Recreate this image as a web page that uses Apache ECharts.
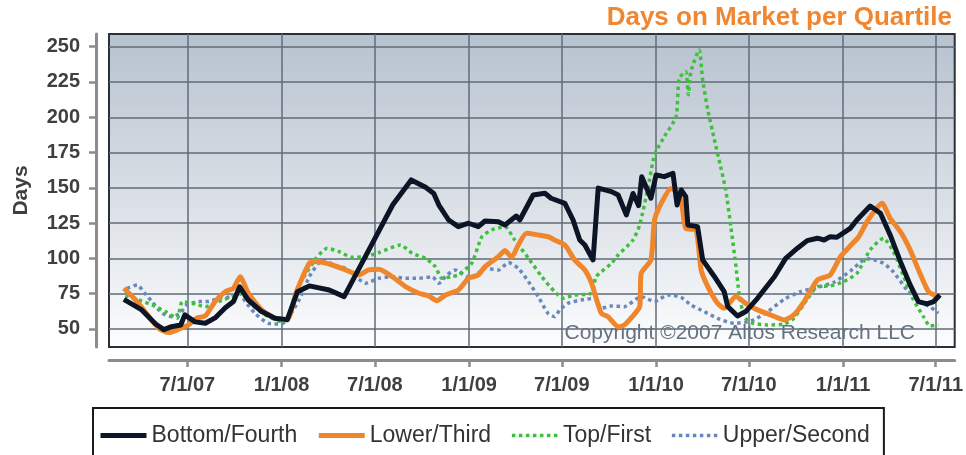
<!DOCTYPE html>
<html>
<head>
<meta charset="utf-8">
<title>Days on Market per Quartile</title>
<script src="https://cdn.jsdelivr.net/npm/echarts@6/dist/echarts.min.js"></script>
<style>
  html, body { margin: 0; padding: 0; background: #fff; }
  #chart { width: 966px; height: 455px; }
</style>
</head>
<body>
<div id="chart"></div>
<script>
// tick labels
var xTicks = ['2007-07-01', '2008-01-01', '2008-07-01', '2009-01-01', '2009-07-01',
              '2010-01-01', '2010-07-01', '2011-01-01', '2011-07-01'];
var yTicks = [50, 75, 100, 125, 150, 175, 200, 225, 250];

// Bottom/Fourth
var bottomDates = ['2007-02-27','2007-04-03','2007-04-30','2007-05-16','2007-05-31','2007-06-18','2007-06-26',
  '2007-07-16','2007-08-05','2007-08-24','2007-09-13','2007-09-29','2007-10-11','2007-10-28','2007-11-23',
  '2007-12-19','2008-01-12','2008-02-01','2008-02-24','2008-04-03','2008-05-02','2008-07-01','2008-08-05',
  '2008-09-10','2008-10-08','2008-10-24','2008-11-03','2008-11-22','2008-12-11','2008-12-31','2009-01-19',
  '2009-02-01','2009-02-27','2009-03-12','2009-04-03','2009-04-10','2009-05-06','2009-05-29','2009-06-10',
  '2009-07-07','2009-07-23','2009-08-05','2009-08-15','2009-08-31','2009-09-03','2009-09-10','2009-10-06',
  '2009-10-19','2009-11-04','2009-11-17','2009-11-28','2009-12-04','2009-12-22','2010-01-01','2010-01-17',
  '2010-02-03','2010-02-11','2010-02-19','2010-02-28','2010-03-04','2010-03-23','2010-04-02','2010-04-25',
  '2010-05-14','2010-05-21','2010-06-09','2010-06-25','2010-07-18','2010-08-20','2010-09-11','2010-10-04',
  '2010-10-23','2010-11-12','2010-11-25','2010-12-07','2010-12-20','2011-01-15','2011-01-28','2011-02-23',
  '2011-03-15','2011-04-03','2011-04-23','2011-05-12','2011-05-28','2011-06-14','2011-06-27','2011-07-09'];
var bottomValues = [71,63.5,53.5,49.5,51.6,52.8,60,
  55,54,57.8,65,69.4,79.8,70.5,62.3,
  57.6,56.6,76.4,80.5,77.6,72.9,114,138,
  155.6,150.4,146,137.8,127.2,122.5,124.9,122.5,
  126.5,126,123.7,130,127.2,144.9,146.1,142.6,
  139,127.2,113,109.5,98.9,98.5,149.8,147.3,
  144.9,130.8,146,137.4,157.9,142.6,159.1,157.9,
  160.3,137.8,148.5,143.7,123.7,122.5,98.9,87,
  76.4,65.8,59.2,62.3,71.7,87,100,107.2,
  112.6,114.3,113,115.4,115,121.3,127.2,137.1,
  132,116.6,97.7,81.2,69.4,67.7,69.4,74.1];

// Lower/Third
var lowerDates = ['2007-02-27','2007-03-22','2007-04-17','2007-05-06','2007-05-26','2007-06-14','2007-07-03',
  '2007-07-19','2007-08-05','2007-08-24','2007-09-13','2007-09-29','2007-10-12','2007-10-28','2007-11-23',
  '2007-12-19','2008-01-12','2008-01-29','2008-02-24','2008-03-08','2008-04-09','2008-05-05','2008-05-31',
  '2008-06-19','2008-07-09','2008-08-04','2008-08-30','2008-09-25','2008-10-14','2008-10-30','2008-11-16',
  '2008-12-11','2008-12-31','2009-01-19','2009-02-01','2009-02-27','2009-03-12','2009-03-25','2009-04-07',
  '2009-04-23','2009-05-16','2009-06-04','2009-06-17','2009-07-07','2009-07-26','2009-08-15','2009-08-28',
  '2009-09-16','2009-09-29','2009-10-19','2009-10-31','2009-11-13','2009-11-30','2009-12-03','2009-12-22',
  '2009-12-29','2010-01-11','2010-01-30','2010-02-09','2010-02-19','2010-02-28','2010-03-20','2010-03-30',
  '2010-04-12','2010-05-01','2010-05-14','2010-06-06','2010-06-25','2010-07-18','2010-08-13','2010-09-08',
  '2010-09-27','2010-10-17','2010-11-12','2010-12-07','2010-12-27','2011-01-15','2011-01-31','2011-02-17',
  '2011-03-05','2011-03-18','2011-04-03','2011-04-23','2011-05-12','2011-05-31','2011-06-17','2011-07-06'];
var lowerValues = [78.8,70.5,58.7,50.5,47.4,49.8,52.8,
  57.6,59.2,69.4,76.4,78.8,87,75.3,63.5,
  57.6,56.5,75.3,96.5,97.7,95.3,91.8,88.3,
  91.8,92.3,87,80,75.3,73.4,70,74.1,
  77.6,85.9,88.3,94.1,101.2,105.5,100.8,109.5,
  117.8,116.6,115.4,113,109.5,98.9,91.8,82.4,
  61.1,58.7,51.6,52.8,57.6,65.8,89.4,98.9,
  127.2,139,149.6,147.3,141.4,121.3,120.1,91.8,
  80,68.2,64.6,72.9,68.2,63.5,59.9,56.4,
  59.9,69.4,84.7,88.3,101.2,108.8,115,126,
  134.3,139,128.4,118.9,106,89.5,76.4,72.9];

// Top/First
var topDates = ['2007-03-02','2007-03-28','2007-04-23','2007-05-19','2007-06-11','2007-06-21','2007-07-10',
  '2007-08-05','2007-08-31','2007-09-26','2007-10-12','2007-11-04','2007-11-30','2008-01-01','2008-01-12',
  '2008-02-01','2008-03-08','2008-03-30','2008-04-22','2008-05-18','2008-06-13','2008-07-09','2008-08-20',
  '2008-09-12','2008-10-08','2008-10-27','2008-11-09','2008-11-28','2008-12-11','2009-01-06','2009-01-26',
  '2009-02-14','2009-03-12','2009-03-31','2009-04-27','2009-05-23','2009-06-17','2009-07-04','2009-07-26',
  '2009-08-28','2009-09-06','2009-10-06','2009-10-19','2009-11-17','2009-11-30','2009-12-16','2009-12-29',
  '2010-01-17','2010-02-09','2010-02-15','2010-02-28','2010-03-05','2010-03-10','2010-03-26','2010-04-02',
  '2010-04-12','2010-04-25','2010-05-07','2010-05-17','2010-05-27','2010-06-06','2010-06-12','2010-06-22',
  '2010-07-05','2010-08-06','2010-09-08','2010-09-27','2010-10-23','2010-11-12','2010-12-07','2011-01-02',
  '2011-01-28','2011-02-23','2011-03-21','2011-04-09','2011-04-29','2011-05-18','2011-06-07','2011-06-20',
  '2011-07-06'];
var topValues = [73.4,70.5,67,62.3,57.6,69.4,68.2,
  65.8,69.4,72.9,75.3,67,59.9,55.2,56.4,
  78.8,100,107.2,104.8,100.8,101.2,104.1,109.5,
  103.6,100,94.1,85.9,87,88.3,96.5,115.4,
  120.1,122.5,113,100,87,76.4,71.7,74.1,
  75.3,87,96.5,102.4,113,123.7,149.6,173.3,
  186.2,200.4,227.6,232.3,216,232.3,247.7,226.4,
  205.2,183.9,165,148.5,122.5,94.1,75.3,58.7,
  54.5,52.8,53.5,57.6,71,80,80.5,83.5,
  89.4,106,114.3,105,87.5,71,58.7,52,
  52.8];

// Upper/Second
var upperDates = ['2007-03-05','2007-03-25','2007-04-10','2007-04-23','2007-05-13','2007-06-01','2007-06-17',
  '2007-06-30','2007-07-23','2007-08-11','2007-08-31','2007-09-26','2007-10-12','2007-10-22','2007-11-10',
  '2007-12-06','2008-01-01','2008-02-04','2008-02-24','2008-03-21','2008-04-16','2008-05-05','2008-05-25',
  '2008-06-13','2008-07-09','2008-08-04','2008-08-30','2008-09-25','2008-10-21','2008-11-03','2008-11-19',
  '2008-12-05','2008-12-11','2009-01-06','2009-02-01','2009-02-27','2009-03-19','2009-04-07','2009-04-27',
  '2009-05-16','2009-06-04','2009-06-17','2009-06-27','2009-07-13','2009-08-08','2009-09-03','2009-09-16',
  '2009-10-06','2009-10-31','2009-12-03','2009-12-29','2010-01-24','2010-02-19','2010-03-10','2010-04-05',
  '2010-05-01','2010-06-02','2010-07-05','2010-08-06','2010-09-08','2010-10-10','2010-11-12','2010-12-14',
  '2011-01-15','2011-02-10','2011-02-23','2011-03-21','2011-04-09','2011-05-06','2011-05-31','2011-06-20',
  '2011-07-06'];
var upperValues = [78.8,81.2,74.8,69.4,61.1,58.7,61.1,
  67,69.4,69.4,71.7,72.9,75.3,69.4,61.1,
  54,53.5,70.5,87,98.9,94.6,93,87,
  82.4,85.9,87,85.9,85.9,87,82.4,88.3,
  91.8,90.6,85.9,93,91.8,97,93,83.5,
  72.9,61.1,58.7,63.5,68.2,70.5,71.7,64.6,
  66.3,65.8,72.9,69.4,74.1,72.4,67,62.3,
  57.5,54,55.5,62,71,76.4,79.5,83,
  91,98.9,99.7,96.5,90.6,77.6,69,65.8,
  61.1];

var FONT = '"Liberation Sans", Arial, sans-serif';
var axisGrey = '#8c8c8c';
var textGrey = '#3f3f3f';
var colors = { bottom: '#0b1526', lower: '#f0862c', top: '#3ec03c', upper: '#6a88bd' };

// dates become millisecond numbers on a plain value axis
function ms(d) { return +echarts.time.parse(d); }
function pairs(dates, values) {
  return dates.map(function (d, i) { return [ms(d), values[i]]; });
}

var xTickVals = xTicks.map(ms);

var chart = echarts.init(document.getElementById('chart'), null, { renderer: 'canvas' });

var option = {
  animation: false,
  textStyle: { fontFamily: FONT },
  title: {
    text: 'Days on Market per Quartile',
    right: 14,
    top: 5,
    padding: 0,
    textStyle: { color: '#f0862f', fontSize: 26, fontWeight: 'bold', fontFamily: FONT }
  },
  grid: {
    left: 109,
    right: 8,
    top: 34,
    bottom: 108,
    show: true,
    borderColor: '#2b2f36',
    borderWidth: 2,
    backgroundColor: {
      type: 'linear', x: 0, y: 0, x2: 0, y2: 1,
      colorStops: [
        { offset: 0, color: '#b7c2cf' },
        { offset: 0.55, color: '#dce1e7' },
        { offset: 1, color: '#fcfdfe' }
      ]
    }
  },
  legend: {
    left: 93,
    top: 408,
    padding: [16, 14, 20, 5],
    borderColor: '#1a1a1a',
    borderWidth: 2,
    itemGap: 19,
    itemWidth: 46,
    itemHeight: 14,
    itemStyle: { opacity: 0 },
    data: [
      { name: 'Bottom/Fourth', lineStyle: { width: 5, color: colors.bottom } },
      { name: 'Lower/Third', lineStyle: { width: 5, color: colors.lower } },
      { name: 'Top/First', lineStyle: { width: 3.5, color: colors.top, type: [3.5, 3.5] } },
      { name: 'Upper/Second', lineStyle: { width: 3.5, color: colors.upper, type: [3.5, 3.5] } }
    ],
    textStyle: { fontSize: 23, color: '#333', fontFamily: FONT }
  },
  graphic: [{
    type: 'text',
    right: 51,
    top: 323,
    z: 1,
    style: {
      text: 'Copyright \u00a92007 Altos Research LLC',
      fill: '#66717f',
      font: '21px ' + FONT
    }
  }],
  xAxis: {
    type: 'value',
    min: ms('2007-01-29'),
    max: ms('2011-08-07'),
    offset: 13,
    axisLine: { show: true, lineStyle: { color: axisGrey, width: 3 } },
    axisTick: { show: true, length: 7, customValues: xTickVals, lineStyle: { color: axisGrey, width: 2.5 } },
    axisLabel: {
      customValues: xTickVals,
      margin: 15,
      fontSize: 20,
      fontWeight: 'bold',
      color: textGrey,
      formatter: function (val) {
        var d = new Date(val);
        return (d.getMonth() + 1) + '/' + d.getDate() + '/' + String(d.getFullYear()).slice(2);
      }
    },
    splitLine: { show: true, lineStyle: { color: '#5f6b79', width: 1.5 } }
  },
  yAxis: {
    type: 'value',
    min: 37.2,
    max: 259,
    offset: 13,
    name: 'Days',
    nameLocation: 'middle',
    nameGap: 64,
    nameTextStyle: { fontSize: 21, fontWeight: 'bold', color: textGrey, fontFamily: FONT },
    axisLine: { show: true, lineStyle: { color: axisGrey, width: 3 } },
    axisTick: { show: true, length: 7, customValues: yTicks, lineStyle: { color: axisGrey, width: 2.5 } },
    axisLabel: { customValues: yTicks, margin: 16, fontSize: 20, fontWeight: 'bold', color: textGrey },
    splitLine: { show: true, lineStyle: { color: '#5f6b79', width: 1.5 } }
  },
  series: [
    {
      name: 'Bottom/Fourth', type: 'line', symbol: 'none', z: 5,
      lineStyle: { color: colors.bottom, width: 5, join: 'round' },
      itemStyle: { color: colors.bottom },
      data: pairs(bottomDates, bottomValues)
    },
    {
      name: 'Lower/Third', type: 'line', symbol: 'none', z: 4, smooth: 0.2,
      lineStyle: { color: colors.lower, width: 5, join: 'round' },
      itemStyle: { color: colors.lower },
      data: pairs(lowerDates, lowerValues)
    },
    {
      name: 'Top/First', type: 'line', symbol: 'none', z: 3, smooth: 0.2,
      lineStyle: { color: colors.top, width: 3.5, type: [3.5, 3.5] },
      itemStyle: { color: colors.top },
      data: pairs(topDates, topValues)
    },
    {
      name: 'Upper/Second', type: 'line', symbol: 'none', z: 2, smooth: 0.2,
      lineStyle: { color: colors.upper, width: 3.5, type: [3.5, 3.5] },
      itemStyle: { color: colors.upper },
      data: pairs(upperDates, upperValues)
    }
  ]
};

chart.setOption(option);
</script>
</body>
</html>
